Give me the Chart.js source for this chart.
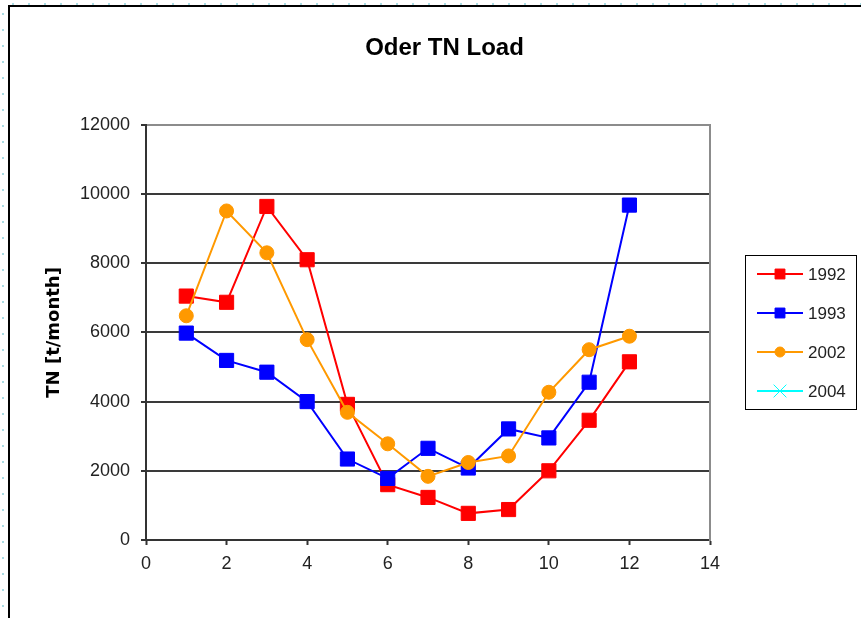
<!DOCTYPE html>
<html>
<head>
<meta charset="utf-8">
<title>Oder TN Load</title>
<script src="https://cdn.jsdelivr.net/npm/chart.js@4.4.1/dist/chart.umd.min.js"></script>
<style>
  html, body { margin: 0; padding: 0; background: #fff; }
  canvas { display: block; }
</style>
</head>
<body>
<canvas id="chart" width="861" height="618"></canvas>
<script>
// Monthly total nitrogen load of the Oder, t/month
const months = [1, 2, 3, 4, 5, 6, 7, 8, 9, 10, 11, 12];
const load1992 = [7050, 6870, 9640, 8100, 3920, 1600, 1230, 770, 880, 2000, 3460, 5150];
const load1993 = [5980, 5190, 4850, 4000, 2340, 1780, 2650, 2080, 3210, 2950, 4560, 9680];
const load2002 = [6480, 9510, 8300, 5790, 3690, 2780, 1840, 2240, 2430, 4270, 5500, 5890];
const load2004 = [];
const seriesNames = ['1992', '1993', '2002', '2004'];
const xTicks = [0, 2, 4, 6, 8, 10, 12, 14];
const yTicks = [0, 2000, 4000, 6000, 8000, 10000, 12000];

const toPoints = vals => vals.map((v, i) => ({ x: months[i], y: v }));

// Worksheet frame with its faint cell-grid dots
const sheetFrame = {
  id: 'sheetFrame',
  beforeDraw(chart) {
    const { ctx, width, height } = chart;
    ctx.save();
    ctx.fillStyle = '#ffffff';
    ctx.fillRect(0, 0, width, height);
    ctx.fillStyle = '#a9dbe3';
    for (let x = 12; x < width; x += 16) ctx.fillRect(x, 3, 2, 2);
    for (let y = 13; y < height; y += 16) ctx.fillRect(2, y, 2, 2);
    ctx.strokeStyle = '#000';
    ctx.lineWidth = 2;
    ctx.beginPath();
    ctx.moveTo(9, height);
    ctx.lineTo(9, 6);
    ctx.lineTo(width, 6);
    ctx.stroke();
    ctx.restore();
  }
};

// Boxed legend with line-and-marker keys
const boxLegend = {
  id: 'boxLegend',
  afterDraw(chart) {
    const ctx = chart.ctx;
    const boxX = 745.5, boxY = 255.5, boxW = 111, boxH = 154;
    const rowY0 = 274, rowGap = 39;
    ctx.save();
    ctx.strokeStyle = '#000';
    ctx.lineWidth = 1;
    ctx.strokeRect(boxX, boxY, boxW, boxH);
    chart.data.datasets.forEach((ds, i) => {
      const y = rowY0 + i * rowGap;
      ctx.strokeStyle = ds.borderColor;
      ctx.lineWidth = 2;
      ctx.beginPath();
      ctx.moveTo(757, y);
      ctx.lineTo(803, y);
      ctx.stroke();
      ctx.fillStyle = ds.pointBackgroundColor;
      ctx.strokeStyle = ds.pointBorderColor;
      ctx.lineWidth = 1;
      const r = ds.pointStyle === 'rect' ? 7 : (ds.pointStyle === 'circle' ? 5 : 9);
      Chart.helpers.drawPoint(ctx, { pointStyle: ds.pointStyle, radius: r, borderWidth: 1, rotation: 0 }, 780, y);
      ctx.fillStyle = '#222';
      ctx.font = '17px "Liberation Sans", Arial, sans-serif';
      ctx.textAlign = 'left';
      ctx.textBaseline = 'middle';
      ctx.fillText(ds.label, 808, y + 1);
    });
    ctx.restore();
  }
};

function series(label, vals, color, style, radius) {
  return {
    label,
    data: toPoints(vals),
    borderColor: color,
    backgroundColor: color,
    borderWidth: 2,
    pointStyle: style,
    pointRadius: radius,
    pointHoverRadius: radius,
    pointBackgroundColor: color,
    pointBorderColor: color,
    pointBorderWidth: 1,
    tension: 0,
    fill: false
  };
}

const datasets = [
  Object.assign(series(seriesNames[0], load1992, '#ff0000', 'rect', 10), { order: 3 }),
  Object.assign(series(seriesNames[1], load1993, '#0000ff', 'rect', 10), { order: 2 }),
  Object.assign(series(seriesNames[2], load2002, '#ff9900', 'circle', 7), { order: 1 }),
  Object.assign(series(seriesNames[3], load2004, '#00ffff', 'crossRot', 7), { order: 0 })
];

const tickFont = { family: '"Liberation Sans", Arial, sans-serif', size: 18 };
const plainNumber = v => String(v);

new Chart(document.getElementById('chart'), {
  type: 'line',
  data: { datasets },
  options: {
    responsive: false,
    animation: false,
    devicePixelRatio: 1,
    layout: { padding: { left: 28, right: 0, top: 20, bottom: 0 } },
    plugins: {
      legend: { display: false },
      tooltip: { enabled: false },
      title: {
        display: true,
        text: 'Oder TN Load',
        color: '#000',
        font: { family: '"Liberation Sans", Arial, sans-serif', size: 24, weight: 'bold' },
        padding: { top: 14, bottom: 62 }
      }
    },
    scales: {
      x: {
        type: 'linear',
        min: xTicks[0],
        max: xTicks[xTicks.length - 1],
        afterBuildTicks: s => { s.ticks = xTicks.map(v => ({ value: v })); },
        ticks: { color: '#222', font: tickFont, padding: 8, maxRotation: 0, callback: plainNumber },
        grid: { drawOnChartArea: false, drawTicks: true, tickLength: 5, tickColor: '#333', tickWidth: 2 },
        border: { color: '#333', width: 2 },
        afterFit: s => { s.height = 78; }
      },
      y: {
        min: yTicks[0],
        max: yTicks[yTicks.length - 1],
        afterBuildTicks: s => { s.ticks = yTicks.map(v => ({ value: v })); },
        ticks: { color: '#222', font: tickFont, padding: 11, callback: plainNumber },
        grid: {
          color: c => (c.tick && c.tick.value === yTicks[yTicks.length - 1]) ? '#8c8c8c' : '#3a3a3a',
          lineWidth: 2,
          drawTicks: true,
          tickLength: 5,
          tickColor: '#333',
          tickWidth: 2
        },
        border: { color: '#333', width: 2 },
        title: {
          display: true,
          text: 'TN [t/month]',
          color: '#000',
          font: { family: '"DejaVu Sans", Verdana, sans-serif', size: 18, weight: 'bold' },
          padding: { top: 16, bottom: 0 }
        },
        afterFit: s => { s.width = 118; }
      },
      y2: {
        position: 'right',
        min: yTicks[0],
        max: yTicks[yTicks.length - 1],
        ticks: { display: false },
        grid: { drawOnChartArea: false, drawTicks: false },
        border: { color: '#8c8c8c', width: 2 },
        afterFit: s => { s.width = 151; }
      }
    }
  },
  plugins: [sheetFrame, boxLegend]
});
</script>
</body>
</html>
